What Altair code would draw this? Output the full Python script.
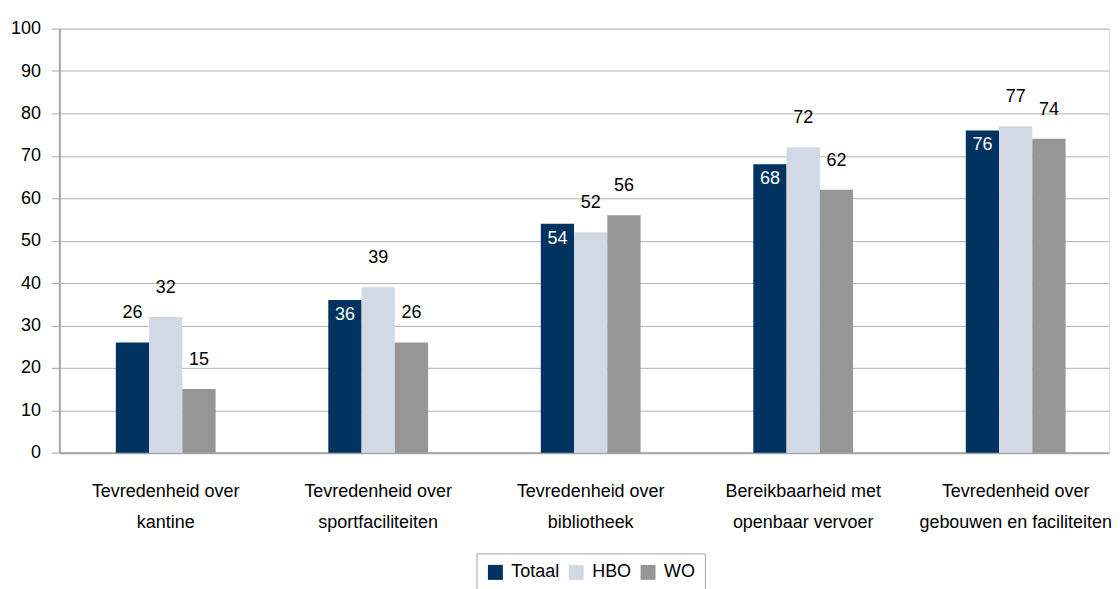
import altair as alt
import pandas as pd

categories = [
    "Tevredenheid over|kantine",
    "Tevredenheid over|sportfaciliteiten",
    "Tevredenheid over|bibliotheek",
    "Bereikbaarheid met|openbaar vervoer",
    "Tevredenheid over|gebouwen en faciliteiten",
]
series = ["Totaal", "HBO", "WO"]
totaal = [26, 36, 54, 68, 76]
hbo = [32, 39, 52, 72, 77]
wo = [15, 26, 56, 62, 74]
colors = ["#00335f", "#d0d9e5", "#969696"]
y_ticks = list(range(0, 101, 10))

rows = []
for i, c in enumerate(categories):
    for s, vals in zip(series, [totaal, hbo, wo]):
        rows.append({"category": c, "series": s, "value": vals[i]})
df = pd.DataFrame(rows)

FONT = "Liberation Sans"
GRID = "#b3b3b3"
AXIS = "#a6a6a6"

x_enc = alt.X(
    "category:N",
    sort=categories,
    scale=alt.Scale(paddingInner=0.5305, paddingOuter=0.235, align=0.565),
    axis=alt.Axis(
        title=None,
        labelAngle=0,
        labelExpr="split(datum.label, '|')",
        ticks=False,
        tickSize=0,
        labelFontSize=18,
        labelLineHeight=31,
        labelPadding=30,
        labelLimit=400,
        labelColor="#000000",
        domainColor=AXIS,
        domainWidth=2,
        grid=False,
    ),
)
xoff_enc = alt.XOffset("series:N", sort=series, scale=alt.Scale(paddingInner=0, paddingOuter=0))
y_enc = alt.Y(
    "value:Q",
    scale=alt.Scale(domain=[0, 100], nice=False),
    axis=alt.Axis(
        title=None,
        values=y_ticks,
        tickSize=8,
        tickColor=AXIS,
        labelPadding=11,
        labelFontSize=18,
        labelColor="#000000",
        domainColor=AXIS,
        domainWidth=2,
        grid=True,
        gridColor=GRID,
        gridWidth=1,
    ),
)

base = alt.Chart(df)

bars = base.mark_bar().encode(
    x=x_enc,
    xOffset=xoff_enc,
    y=y_enc,
    color=alt.Color(
        "series:N",
        sort=series,
        scale=alt.Scale(domain=series, range=colors),
        legend=alt.Legend(
            title=None,
            orient="none",
            legendX=418,
            legendY=526,
            direction="horizontal",
            strokeColor=AXIS,
            padding=10,
            symbolType="square",
            symbolSize=225,
            symbolStrokeWidth=0,
            labelFontSize=18,
            labelColor="#000000",
            labelOffset=7,
            columnPadding=7,
        ),
    ),
)

inside = base.transform_filter(
    "datum.series == 'Totaal' && datum.value >= 30"
).mark_text(color="white", dy=15, fontSize=18, baseline="middle", font=FONT).encode(
    x=alt.X("category:N", sort=categories),
    xOffset=alt.XOffset("series:N", sort=series),
    y="value:Q",
    text=alt.Text("value:Q", format=".0f"),
)

outside = base.transform_filter(
    "!(datum.series == 'Totaal' && datum.value >= 30)"
).mark_text(color="black", dy=-29, fontSize=18, baseline="middle", font=FONT).encode(
    x=alt.X("category:N", sort=categories),
    xOffset=alt.XOffset("series:N", sort=series),
    y="value:Q",
    text=alt.Text("value:Q", format=".0f"),
)

chart = (
    alt.layer(bars, inside, outside)
    .properties(width=1052, height=425, padding={"left": 1.5, "top": 11, "right": 0, "bottom": 0})
    .configure_view(stroke=None)
    .configure(font=FONT)
)

chart.save("out.html", embed_options={"renderer": "svg", "actions": False})
